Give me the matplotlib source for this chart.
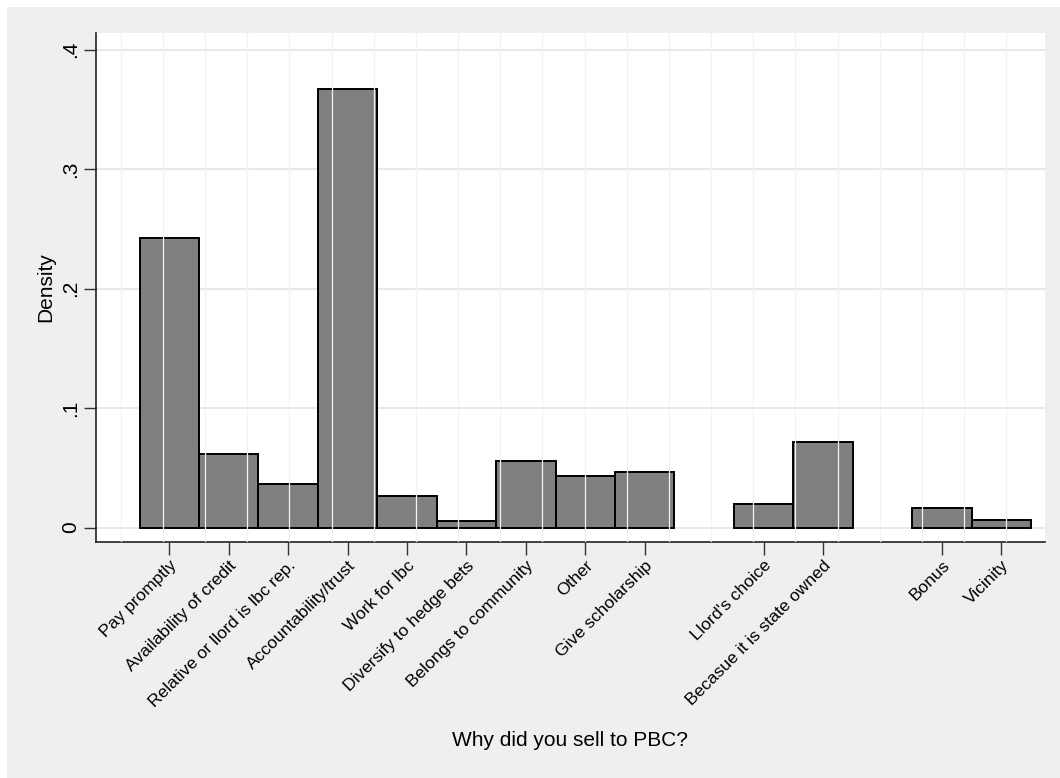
"""Histogram of reasons for selling to PBC (Stata s2color look)."""
import numpy as np
import matplotlib
matplotlib.use("Agg")
import matplotlib.pyplot as plt
from matplotlib.patches import Rectangle

plt.rcParams["font.family"] = ["Liberation Sans", "DejaVu Sans"]

# data
reasons = [
    "Pay promptly", "Availability of credit", "Relative or llord is lbc rep.",
    "Accountability/trust", "Work for lbc", "Diversify to hedge bets",
    "Belongs to community", "Other", "Give scholarship",
    "Llord's choice", "Becasue it is state owned", "Bonus", "Vicinity",
]
codes = [1, 2, 3, 4, 5, 6, 7, 8, 9, 11, 12, 14, 15]
density = [0.2426, 0.0616, 0.0365, 0.3673, 0.0264, 0.0058,
           0.0557, 0.0429, 0.0463, 0.0198, 0.0718, 0.0167, 0.0064]
yticks = [0, 0.1, 0.2, 0.3, 0.4]
ytick_labels = ["0", ".1", ".2", ".3", ".4"]

W, H = 1060, 778
fig = plt.figure(figsize=(W / 100, H / 100), dpi=100, facecolor="white")
# graph region (light gray band)
fig.patches.append(Rectangle((7 / W, 0), 1 - 7 / W, 1 - 7 / H,
                             transform=fig.transFigure, facecolor="#efefef",
                             edgecolor="none", zorder=-10))

ax = fig.add_axes([96 / W, 1 - 542 / H, (1045 - 96) / W, (542 - 33) / H])
ax.set_facecolor("white")

# horizontal grid behind the bars
for y in yticks:
    ax.axhline(y, color="#e8e8e8", lw=1.4, zorder=0)

ax.bar(codes, density, width=1.0, color="#808080", edgecolor="black",
       linewidth=1.4, zorder=2)

# Stata draws the vertical grid over the bars
for x in np.linspace(0.182, 15.083, 22):
    ax.axvline(x, color="#f2f2f2", lw=0.9, zorder=3)

ax.set_xlim(-0.233, 15.735)
ax.set_ylim(-0.0121, 0.4139)

ax.set_yticks(yticks)
ax.set_yticklabels(ytick_labels, rotation=90, va="center", fontsize=15)
ax.set_xticks(codes)
ax.set_xticklabels(reasons, rotation=45, ha="right", va="top",
                   rotation_mode="anchor", fontsize=12.5)
ax.tick_params(axis="both", direction="out", length=9, width=1.0,
               color="#333333", pad=2.5)

for side in ["top", "right"]:
    ax.spines[side].set_visible(False)
for side in ["left", "bottom"]:
    ax.spines[side].set_color("#222222")
    ax.spines[side].set_linewidth(1.2)

ax.set_ylabel("Density", fontsize=15)
ax.set_xlabel("Why did you sell to PBC?", fontsize=15)
ax.xaxis.set_label_coords(0.5, -(731 - 542) / (542 - 33))
ax.yaxis.set_label_coords(-(96 - 55) / (1045 - 96), 0.5)

fig.savefig("out.png", dpi=100, facecolor=fig.get_facecolor())
plt.close(fig)
